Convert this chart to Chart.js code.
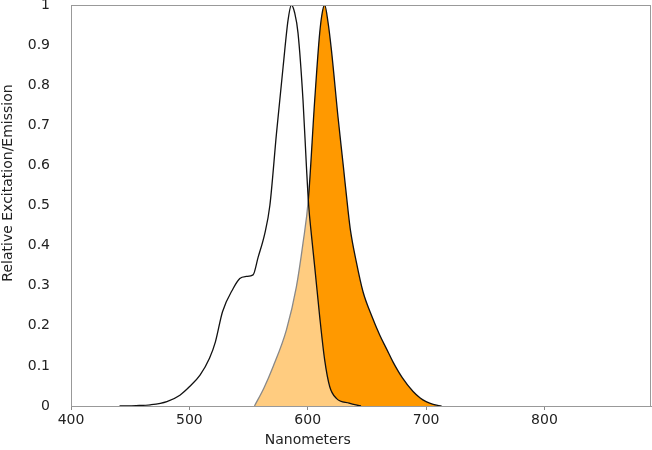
<!DOCTYPE html>
<html>
<head>
<meta charset="utf-8">
<script src="https://cdn.jsdelivr.net/npm/chart.js@4/dist/chart.umd.min.js"></script>
<style>
  html, body { margin: 0; padding: 0; background: #fff; }
  #wrap { width: 652px; height: 450px; }
</style>
</head>
<body>
<div id="wrap"><canvas id="chart"></canvas></div>
<script>
// valores
const exWavelengths = [441, 455, 467, 481, 492, 500, 509, 517, 522, 528, 537, 542.6, 548, 553.8, 558, 563.7, 568, 573.6, 579.2, 583.4, 586.2, 589, 591.8, 596, 598.9, 600.8, 603, 605.9, 610.1, 614.3, 618.6, 624.2, 635, 645];
const exValues = [0, 0.001, 0.003, 0.011, 0.027, 0.048, 0.077, 0.119, 0.16, 0.235, 0.293, 0.318, 0.323, 0.327, 0.37, 0.43, 0.5, 0.68, 0.846, 0.963, 1, 0.98, 0.93, 0.763, 0.597, 0.5, 0.43, 0.347, 0.223, 0.115, 0.048, 0.019, 0.007, 0];

const emWavelengths = [555, 563, 570.7, 582, 590.4, 596, 600.5, 605.9, 610.1, 612.5, 614.3, 617, 620, 625.6, 630, 634, 636, 641, 646.7, 654, 660.8, 667, 672, 680, 689, 695, 700, 706, 713];
const emValues = [0, 0.045, 0.098, 0.19, 0.297, 0.406, 0.514, 0.763, 0.93, 0.985, 1, 0.96, 0.888, 0.72, 0.6, 0.489, 0.44, 0.36, 0.285, 0.225, 0.177, 0.14, 0.11, 0.07, 0.036, 0.02, 0.011, 0.004, 0];

const xTicks = [400, 500, 600, 700, 800];
const xTitle = 'Nanometers';
const yTitle = 'Relative Excitation/Emission';

const toPoints = (xs, ys) => xs.map((x, i) => ({ x, y: ys[i] }));

const FONT = 'DejaVu Sans, sans-serif';

// caja del área y títulos de ejes
const framePlugin = {
  id: 'frame',
  afterDraw(chart) {
    const { ctx, chartArea: a, scales } = chart;
    ctx.save();
    ctx.strokeStyle = '#999';
    ctx.lineWidth = 1;
    ctx.strokeRect(a.left + 0.5, a.top + 0.5, a.right - a.left - 1, a.bottom - a.top);
    ctx.fillStyle = '#222';
    ctx.font = '14px ' + FONT;
    ctx.textAlign = 'center';
    ctx.textBaseline = 'middle';
    ctx.fillText(xTitle, scales.x.getPixelForValue(600), 440);
    ctx.translate(8, 183);
    ctx.rotate(-Math.PI / 2);
    ctx.fillText(yTitle, 0, 0);
    ctx.restore();
  }
};

new Chart(document.getElementById('chart'), {
  type: 'line',
  data: {
    datasets: [
      {
        label: 'Excitation',
        data: toPoints(exWavelengths, exValues),
        borderColor: '#111',
        backgroundColor: 'rgba(255,255,255,0.5)',
        fill: 'origin',
        borderWidth: 1.3,
        pointRadius: 0,
        cubicInterpolationMode: 'monotone',
      },
      {
        label: 'Emission',
        data: toPoints(emWavelengths, emValues),
        borderColor: '#111',
        backgroundColor: '#ff9900',
        fill: 'origin',
        borderWidth: 1.3,
        pointRadius: 0,
        cubicInterpolationMode: 'monotone',
      },
    ]
  },
  options: {
    responsive: true,
    maintainAspectRatio: false,
    animation: false,
    layout: { padding: { top: 5, right: 1, left: 0, bottom: 0 } },
    scales: {
      x: {
        type: 'linear',
        min: 400,
        max: 890,
        afterBuildTicks: axis => { axis.ticks = xTicks.map(v => ({ value: v })); },
        afterFit: scale => { scale.height = 44; scale.paddingLeft = 0; scale.paddingRight = 0; },
        grid: { display: true, drawOnChartArea: false, drawTicks: true, tickLength: 4, color: '#888' },
        border: { display: true, color: '#999' },
        ticks: { color: '#222', font: { family: FONT, size: 14 }, padding: 2, maxRotation: 0 },
      },
      y: {
        min: 0,
        max: 1,
        afterFit: scale => { scale.width = 71; scale.paddingTop = 0; scale.paddingBottom = 0; },
        grid: { display: false },
        border: { display: true, color: '#999' },
        ticks: {
          stepSize: 0.1,
          color: '#222',
          font: { family: FONT, size: 14 },
          padding: 13,
          callback: v => String(+v.toFixed(1)),
        },
      },
    },
    plugins: {
      legend: { display: false },
      tooltip: { enabled: false },
    },
  },
  plugins: [framePlugin],
});
</script>
</body>
</html>
